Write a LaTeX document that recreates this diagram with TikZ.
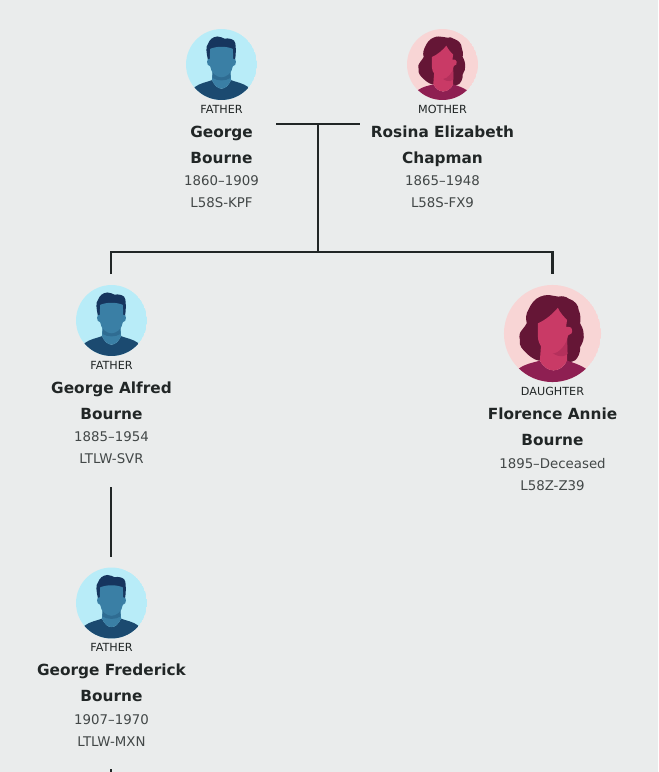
\documentclass[tikz,border=0pt]{standalone}
\usepackage{fontspec}
\setmainfont{DejaVu Sans}
\definecolor{bgc}{HTML}{EAECEC}
\definecolor{ink}{HTML}{212626}
\definecolor{mbg}{HTML}{B8ECF8}
\definecolor{mhair}{HTML}{16355E}
\definecolor{mface}{HTML}{3A7FA5}
\definecolor{mneck}{HTML}{2F6C92}
\definecolor{mshirt}{HTML}{1B4A70}
\definecolor{fbg}{HTML}{F8D5D5}
\definecolor{fhair}{HTML}{651636}
\definecolor{fface}{HTML}{C93A66}
\definecolor{fneck}{HTML}{B5305C}
\definecolor{fshirt}{HTML}{8E1F52}
\tikzset{
  conn/.style={draw=ink,line width=1.75pt},
  relation/.style={anchor=base,font=\fontsize{8.4pt}{10pt}\selectfont,text=ink,inner sep=0pt},
  personname/.style={anchor=base,font=\fontsize{11.5pt}{14pt}\selectfont\bfseries,text=ink,inner sep=0pt},
  detail/.style={anchor=base,font=\fontsize{10pt}{12pt}\selectfont,text=ink!85!white,inner sep=0pt},
  small avatar/.style={circle,minimum size=53.25pt,inner sep=0pt,outer sep=0pt},
  big avatar/.style={circle,minimum size=72.75pt,inner sep=0pt,outer sep=0pt},
  pics/male/.style={code={
    \begin{scope}
      \clip (0,0) circle (1);
      \fill[mbg] (0,0) circle (1);
      % shirt with curved neckline
      \fill[mshirt] (-0.76,0.64) .. controls (-0.6,0.52) and (-0.42,0.5) .. (-0.27,0.44) .. controls (-0.2,0.6) and (-0.1,0.68) .. (0,0.68) .. controls (0.1,0.68) and (0.2,0.6) .. (0.27,0.44) .. controls (0.42,0.5) and (0.6,0.52) .. (0.76,0.64) -- (0.9,1.1) -- (-0.9,1.1) -- cycle;
      % neck
      \fill[mface] (-0.25,0.15) -- (0.25,0.15) -- (0.27,0.44) .. controls (0.2,0.6) and (0.1,0.68) .. (0,0.68) .. controls (-0.1,0.68) and (-0.2,0.6) .. (-0.27,0.44) -- cycle;
      % chin shadow
      \fill[mneck] (-0.25,0.15) -- (0.25,0.15) -- (0.25,0.38) .. controls (0.12,0.47) and (-0.12,0.47) .. (-0.25,0.38) -- cycle;
      % hair
      \fill[mhair] (-0.38,-0.12) .. controls (-0.43,-0.35) and (-0.45,-0.5) .. (-0.38,-0.58) .. controls (-0.34,-0.7) and (-0.25,-0.78) .. (-0.12,-0.79) .. controls (-0.02,-0.8) and (0.02,-0.74) .. (0.08,-0.73) .. controls (0.2,-0.75) and (0.38,-0.72) .. (0.39,-0.6) .. controls (0.41,-0.45) and (0.41,-0.3) .. (0.38,-0.12) -- cycle;
      % face and ears
      \fill[mface] (-0.32,-0.44) .. controls (-0.15,-0.52) and (0.15,-0.52) .. (0.32,-0.44) -- (0.33,-0.16) .. controls (0.43,-0.2) and (0.44,0.04) .. (0.32,0.05) .. controls (0.3,0.25) and (0.12,0.36) .. (0,0.36) .. controls (-0.12,0.36) and (-0.3,0.25) .. (-0.32,0.05) .. controls (-0.44,0.04) and (-0.43,-0.2) .. (-0.33,-0.16) -- cycle;
    \end{scope}
  }},
  pics/female/.style={code={
    \begin{scope}
      \clip (0,0) circle (1);
      \fill[fbg] (0,0) circle (1);
      % hair
      \fill[fhair] (-0.12,-0.79) .. controls (-0.02,-0.8) and (0.04,-0.76) .. (0.12,-0.76) .. controls (0.2,-0.78) and (0.28,-0.76) .. (0.33,-0.72) .. controls (0.46,-0.68) and (0.54,-0.58) .. (0.54,-0.48) .. controls (0.58,-0.4) and (0.58,-0.3) .. (0.57,-0.21) .. controls (0.6,-0.15) and (0.64,-0.08) .. (0.64,0) .. controls (0.66,0.1) and (0.62,0.2) .. (0.57,0.28) .. controls (0.58,0.4) and (0.52,0.5) .. (0.47,0.55) .. controls (0.38,0.6) and (0.3,0.6) .. (0.23,0.59) -- (-0.2,0.56) .. controls (-0.3,0.58) and (-0.42,0.52) .. (-0.53,0.41) .. controls (-0.62,0.33) and (-0.7,0.24) .. (-0.67,0.14) .. controls (-0.7,0.04) and (-0.67,-0.03) .. (-0.63,-0.07) .. controls (-0.6,-0.13) and (-0.55,-0.15) .. (-0.53,-0.21) .. controls (-0.56,-0.32) and (-0.54,-0.42) .. (-0.5,-0.48) .. controls (-0.44,-0.62) and (-0.36,-0.72) .. (-0.25,-0.76) .. controls (-0.2,-0.78) and (-0.16,-0.79) .. (-0.12,-0.79) -- cycle;
      % shirt
      \fill[fshirt] (-0.69,0.72) .. controls (-0.55,0.62) and (-0.4,0.6) .. (-0.26,0.56) .. controls (-0.18,0.7) and (-0.08,0.76) .. (0.02,0.76) .. controls (0.14,0.76) and (0.24,0.68) .. (0.3,0.56) .. controls (0.42,0.6) and (0.56,0.64) .. (0.68,0.72) -- (0.9,1.1) -- (-0.9,1.1) -- cycle;
      % neck
      \fill[fface] (-0.23,0.15) -- (0.3,0.1) -- (0.3,0.56) .. controls (0.24,0.68) and (0.14,0.76) .. (0.02,0.76) .. controls (-0.08,0.76) and (-0.18,0.7) .. (-0.26,0.56) -- cycle;
      % chin shadow
      \fill[fneck] (-0.1,0.3) -- (0.3,0.12) -- (0.31,0.42) .. controls (0.2,0.52) and (0.02,0.46) .. (-0.1,0.3) -- cycle;
      % face
      \fill[fface] (0.11,-0.53) .. controls (0.16,-0.42) and (0.24,-0.34) .. (0.3,-0.28) -- (0.28,-0.14) .. controls (0.33,-0.14) and (0.4,-0.14) .. (0.4,-0.08) .. controls (0.42,-0.02) and (0.38,0.03) .. (0.32,0.04) .. controls (0.3,0.2) and (0.14,0.41) .. (0,0.41) .. controls (-0.16,0.41) and (-0.3,0.22) .. (-0.3,0.07) -- (-0.3,-0.21) .. controls (-0.14,-0.28) and (0,-0.4) .. (0.11,-0.53) -- cycle;
    \end{scope}
  }}
}
\begin{document}
\begin{tikzpicture}[x=0.75pt,y=-0.75pt]
\useasboundingbox (0,0) rectangle (658,772);
\fill[bgc] (0,0) rectangle (658,772);

% avatars
\node[small avatar] (a1) at (221.5,64.5) {};
\pic[x=26.6pt,y=-26.6pt] at (a1) {male};
\node[small avatar] (a2) at (442.5,64.5) {};
\pic[x=26.6pt,y=-26.6pt] at (a2) {female};
\node[small avatar] (a3) at (111.5,320.5) {};
\pic[x=26.6pt,y=-26.6pt] at (a3) {male};
\node[big avatar] (a4) at (552.5,333.5) {};
\pic[x=36.4pt,y=-36.4pt] at (a4) {female};
\node[small avatar] (a5) at (111.5,603) {};
\pic[x=26.6pt,y=-26.6pt] at (a5) {male};

% texts
\node[relation] (r1) at (221.5,113) {FATHER};
\node[personname] (n1a) at (221.5,137) {George};
\node[personname] (n1b) at (221.5,163) {Bourne};
\node[detail] (d1a) at (221.5,185.7) {1860–1909};
\node[detail] (d1b) at (221.5,207.7) {L58S-KPF};

\node[relation] (r2) at (442.5,113) {MOTHER};
\node[personname] (n2a) at (442.5,137) {Rosina Elizabeth};
\node[personname] (n2b) at (442.5,163) {Chapman};
\node[detail] (d2a) at (442.5,185.7) {1865–1948};
\node[detail] (d2b) at (442.5,207.7) {L58S-FX9};

\node[relation] (r3) at (111.5,369) {FATHER};
\node[personname] (n3a) at (111.5,393) {George Alfred};
\node[personname] (n3b) at (111.5,419) {Bourne};
\node[detail] (d3a) at (111.5,441.7) {1885–1954};
\node[detail] (d3b) at (111.5,463.7) {LTLW-SVR};

\node[relation] (r4) at (552.5,395) {DAUGHTER};
\node[personname] (n4a) at (552.5,419) {Florence Annie};
\node[personname] (n4b) at (552.5,445.7) {Bourne};
\node[detail] (d4a) at (552.5,468.7) {1895–Deceased};
\node[detail] (d4b) at (552.5,490.7) {L58Z-Z39};

\node[relation] (r5) at (111.5,651) {FATHER};
\node[personname] (n5a) at (111.5,675) {George Frederick};
\node[personname] (n5b) at (111.5,701.7) {Bourne};
\node[detail] (d5a) at (111.5,724.7) {1907–1970};
\node[detail] (d5b) at (111.5,746.7) {LTLW-MXN};

% connector coordinates
\coordinate (cpl) at (276,124);
\coordinate (cpr) at (359.5,124);
\coordinate (jt) at (317.7,124);
\coordinate (jb) at (317.7,252);
\coordinate (bl) at (111,252);
\coordinate (br) at (552.5,252);
\coordinate (dl) at (111,274);
\coordinate (dr) at (552.5,274);
\coordinate (v1) at (111,487);
\coordinate (v2) at (111,556.5);
\coordinate (v3) at (111,769);
\coordinate (v4) at (111,772);

\draw[conn] (cpl) -- (cpr);
\draw[conn] (jt) -- (jb);
\draw[conn] (dl) -- (bl) -- (br) -- (dr);
\draw[conn] (v1) -- (v2);
\draw[conn] (v3) -- (v4);
\end{tikzpicture}
\end{document}
